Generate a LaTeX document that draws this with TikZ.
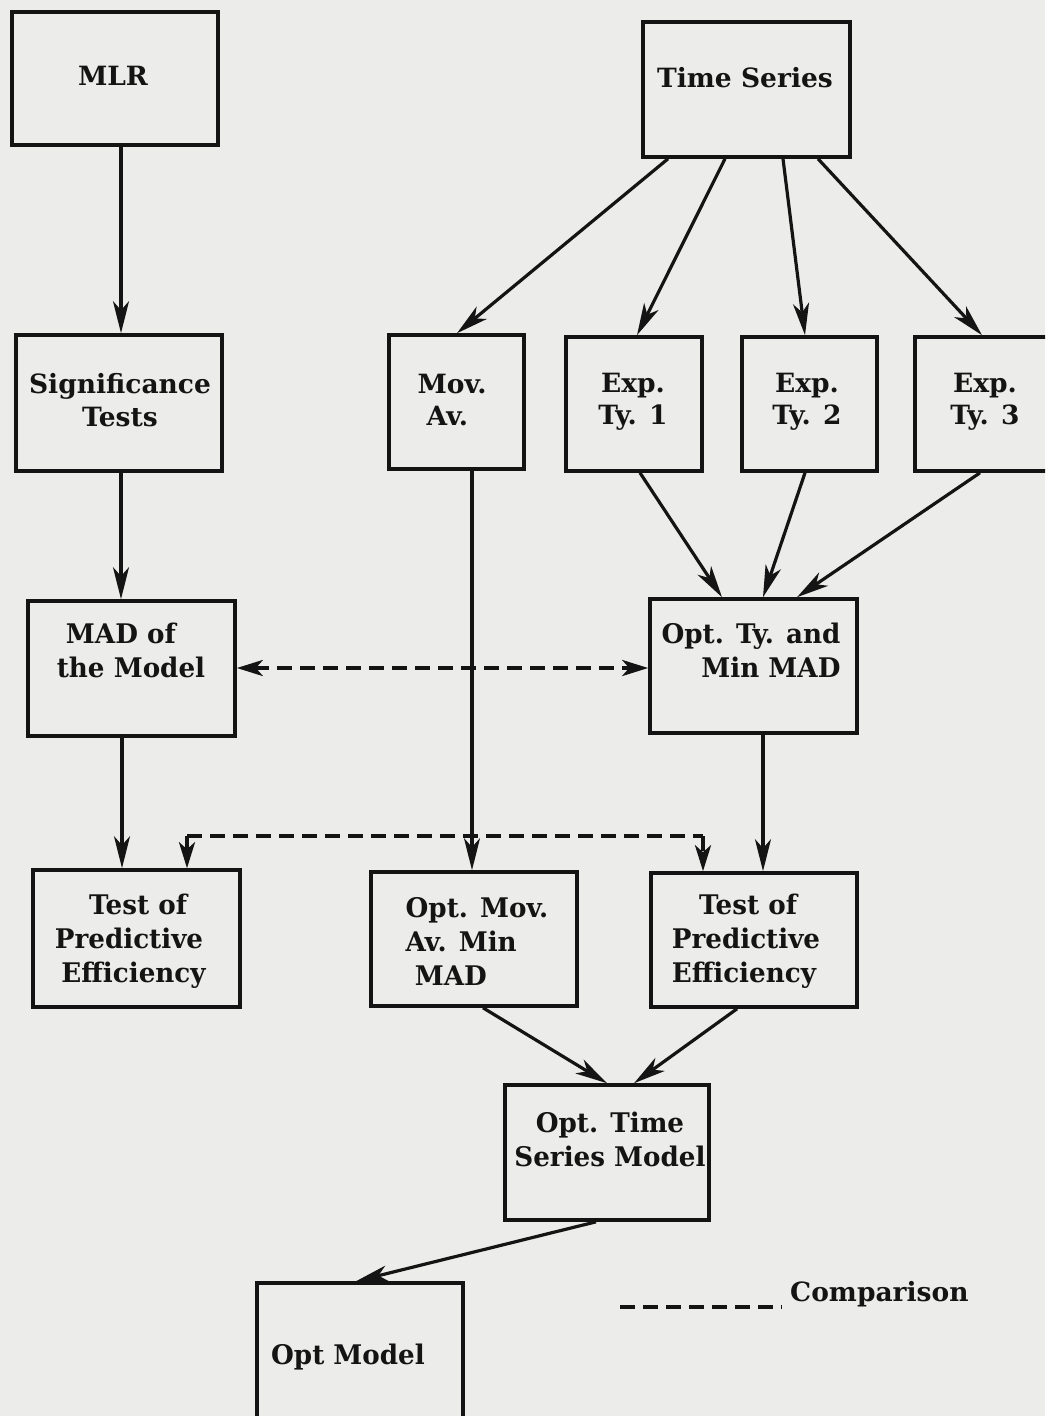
\documentclass[tikz,border=0pt]{standalone}
\usepackage{fontspec}
\setmainfont{DejaVu Serif}
\newfontfamily\boxfont{DejaVu Serif}
\newfontfamily\condfont[FakeStretch=0.97]{DejaVu Serif}
\usetikzlibrary{arrows.meta,calc}
\definecolor{paper}{RGB}{236,236,234}
\definecolor{ink}{RGB}{20,20,20}
\begin{document}
\begin{tikzpicture}[x=1pt,y=-1pt,
  box/.style={draw=ink,line width=3.6pt,inner sep=0pt},
  lbl/.style={font=\boxfont\bfseries\fontsize{26.5}{32.5}\selectfont,align=center,text=ink,inner sep=0pt},
  clbl/.style={font=\condfont\bfseries\fontsize{27}{34}\selectfont,align=center,text=ink,inner sep=0pt},
  conn/.style={draw=ink,line width=3.2pt,-{Stealth[length=32pt,width=16pt,inset=9pt]}},
  cmp/.style={draw=ink,line width=3.6pt,dash pattern=on 15pt off 8pt},
  cmparrow/.style={cmp,-{Stealth[length=26pt,width=16pt,inset=7pt]}}
]
\fill[paper] (0,0) rectangle (1045,1416);
\useasboundingbox (0,0) rectangle (1045,1416);
\clip (0,0) rectangle (1045,1416);

% boxes
\node[box,minimum width=206pt,minimum height=133pt] (mlr) at (115,78.5) {};
\node[box,minimum width=207pt,minimum height=135pt] (ts) at (746.5,89.5) {};
\node[box,minimum width=206pt,minimum height=136pt] (sig) at (119,403) {};
\node[box,minimum width=135pt,minimum height=134pt] (mov) at (456.5,402) {};
\node[box,minimum width=136pt,minimum height=134pt] (e1) at (634,404) {};
\node[box,minimum width=135pt,minimum height=134pt] (e2) at (809.5,404) {};
\node[box,minimum width=150pt,minimum height=134pt] (e3) at (990,404) {};
\node[box,minimum width=207pt,minimum height=135pt] (mad) at (131.5,668.5) {};
\node[box,minimum width=207pt,minimum height=134pt] (opt) at (753.5,666) {};
\node[box,minimum width=207pt,minimum height=137pt] (tl) at (136.5,938.5) {};
\node[box,minimum width=206pt,minimum height=134pt] (om) at (474,939) {};
\node[box,minimum width=206pt,minimum height=134pt] (tr) at (754,940) {};
\node[box,minimum width=204pt,minimum height=135pt] (ots) at (607,1152.5) {};
\node[box,minimum width=206pt,minimum height=160pt] (optm) at (360,1363) {};

% labels
\node[lbl] (tmlr) at (113,76) {MLR};
\node[lbl] (tts) at (745,78) {Time Series};
\node[lbl] (tsig) at (120,400) {Significance\\Tests};
\node[lbl,align=left] (tmov) at (452,400) {Mov.\\\ Av.};
\node[lbl] (te1) at (633,402) {Exp.\\Ty. 1};
\node[lbl] (te2) at (807,402) {Exp.\\Ty. 2};
\node[lbl] (te3) at (985,402) {Exp.\\Ty. 3};
\node[clbl,align=left] (tmad) at (131,650) {\ MAD of\\the Model};
\node[clbl,align=right] (topt) at (751,650) {Opt. Ty. and\\Min MAD\ };
\node[clbl] (ttl) at (129,941) {\ \ Test of\\Predictive\\\ Efficiency};
\node[clbl,align=left] (tom) at (477,941) {Opt. Mov.\\Av. Min\\\ MAD};
\node[clbl,align=left] (ttr) at (746,941) {\ \ \ Test of\\Predictive\\Efficiency};
\node[clbl] (tots) at (610,1139) {Opt. Time\\Series Model};
\node[clbl] (toptm) at (348,1357) {Opt Model};

% connectors
\draw[conn] (121,0 |- mlr.south) -- (121,0 |- sig.north);
\draw[conn] (668,0 |- ts.south) -- (457,0 |- mov.north);
\draw[conn] (725,0 |- ts.south) -- (637,0 |- e1.north);
\draw[conn] (783,0 |- ts.south) -- (805,0 |- e2.north);
\draw[conn] (818,0 |- ts.south) -- (982,0 |- e3.north);
\draw[conn] (121,0 |- sig.south) -- (121,0 |- mad.north);
\draw[conn] (472,0 |- mov.south) -- (472,0 |- om.north);
\draw[conn] (640,0 |- e1.south) -- (722,0 |- opt.north);
\draw[conn] (805,0 |- e2.south) -- (763,0 |- opt.north);
\draw[conn] (980,0 |- e3.south) -- (797,0 |- opt.north);
\draw[conn] (122,0 |- mad.south) -- (122,0 |- tl.north);
\draw[conn] (763,0 |- opt.south) -- (763,0 |- tr.north);
\draw[conn] (483,0 |- om.south) -- (607,0 |- ots.north);
\draw[conn] (737,0 |- tr.south) -- (634,0 |- ots.north);
\draw[conn] (596,0 |- ots.south) -- (356,0 |- optm.north);

% comparisons (dashed)
\draw[cmp,{Stealth[length=26pt,width=16pt,inset=7pt]}-{Stealth[length=26pt,width=16pt,inset=7pt]}] (mad.east |- 0,668) -- (opt.west |- 0,668);
\coordinate (cl) at (187,836);
\coordinate (cr) at (703,836);
\draw[cmp] (cl) -- (cr);
\draw[cmparrow] (cl) -- (187,0 |- tl.north);
\draw[cmparrow] (cr) -- (703,0 |- tr.north);

% legend
\coordinate (lg1) at (620,1307);
\coordinate (lg2) at (782,1307);
\draw[cmp] (lg1) -- (lg2);
\node[lbl,anchor=west] (tcmp) at (790,1294) {Comparison};
\end{tikzpicture}
\end{document}
